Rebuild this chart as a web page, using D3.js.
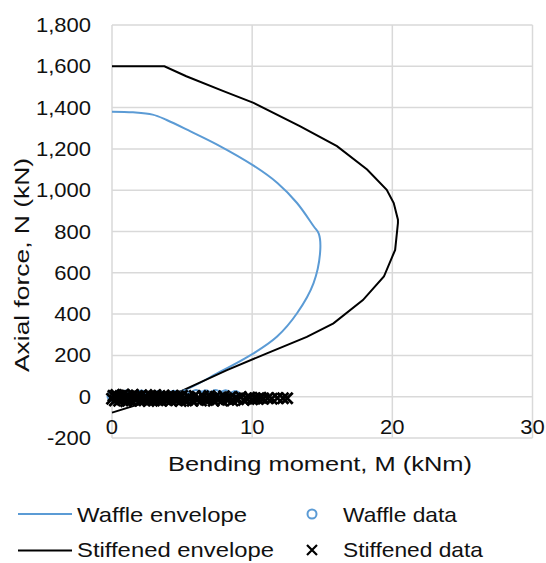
<!DOCTYPE html>
<html>
<head>
<meta charset="utf-8">
<script src="https://cdn.jsdelivr.net/npm/d3@7"></script>
<style>
	body { margin: 0; background: #fff; }
	text { font-family: "Liberation Sans", Arial, sans-serif; fill: #111; }
</style>
</head>
<body>
<div id="chart"></div>
<script>
// envelope curves (M in kNm, N in kN)
var waffleEnvM = [0, 1.5, 2.9, 3.9, 5.6, 7.5, 10.1, 11.8, 13.2, 14.4, 14.75, 14.86, 14.38, 13.2, 11.76, 10.1, 7.5, 4.9, 0];
var waffleEnvN = [1380, 1377, 1366, 1340, 1285, 1221, 1119, 1035, 938, 824, 790, 712, 550, 404, 290, 210, 113, 25, -30];

var stiffEnvM = [0, 3.74, 5.3, 7.95, 10.1, 13.4, 16.05, 18.2, 19.6, 20.1, 20.4, 20.4, 20.2, 19.4, 17.9, 15.8, 13.9, 11.05, 8.2, 4.86, 0];
var stiffEnvN = [1600, 1600, 1552, 1480, 1423, 1310, 1213, 1100, 1002, 938, 857, 841, 711, 582, 468, 355, 290, 210, 129, 25, -77];

// test data
var waffleDataM = [0, 0.2, 0.5, 0.8, 1.1, 1.4, 1.8, 2.1, 2.5, 2.9, 3.3, 3.6, 4.0, 4.4, 4.8, 5.2, 5.6, 6.0, 6.3, 6.7, 7.0, 7.4, 7.8, 8.1, 8.5, 8.8];
var waffleDataN = [2, -4, 8, 0, 10, 4, -2, 8, 0, -6, 5, 2, -3, 7, 0, 10, -2, 11, 4, 10, 0, 11, 3, 10, -1, 6];

var stiffDataM = [0, 0.1, 0.2, 0.3, 0.4, 0.5, 0.6, 0.7, 0.8, 0.9, 1.0, 1.1, 1.2, 1.3, 1.4, 1.5, 1.6, 1.7, 1.8, 1.9, 2.0, 2.1, 2.2, 2.3, 2.4, 2.5,
	2.6, 2.7, 2.8, 2.9, 3.0, 3.1, 3.2, 3.3, 3.4, 3.5, 3.6, 3.7, 3.8, 3.9, 4.0, 4.1, 4.2, 4.3, 4.4, 4.5, 4.6, 4.7, 4.8, 4.9,
	5.0, 5.15, 5.3, 5.45, 5.6, 5.75, 5.9, 6.05, 6.2, 6.35, 6.5, 6.65, 6.8, 6.95, 7.1, 7.25, 7.4, 7.55, 7.7, 7.85, 8.0, 8.15, 8.3, 8.45, 8.6,
	8.8, 9.0, 9.2, 9.4, 9.6, 9.8, 10.0, 10.2, 10.4, 10.6, 10.8, 11.1, 11.4, 11.8, 12.2, 12.5];
var stiffDataN = [-10, 5, -18, 8, -4, -20, 3, -12, 10, -6, -22, 6, -14, 0, -19, 9, -8, -16, 4, -2, -20, 7, -11, -17, 2, -6,
	-21, 5, -13, 0, -18, 8, -9, -15, 3, -20, -4, 6, -12, -17, 1, -8, -19, 4, -10, -3, -16, 2, -7, -21,
	5, -12, -18, 0, -9, -20, 4, -14, -6, -19, 2, -11, -16, 3, -8, -20, 0, -13, -5, -18, 2, -10, -15, -3, -19,
	-7, -12, -2, -16, -9, -4, -13, -8, -11, -5, -9, -7, -10, -6, -8, -7];

var xTicks = [0, 10, 20, 30];
var yTicks = [-200, 0, 200, 400, 600, 800, 1000, 1200, 1400, 1600, 1800];

var width = 546;
var height = 563;
var plot = { left: 112, right: 532.5, top: 25, bottom: 438 };

var blue = '#5b9bd5';
var grid = '#d9d9d9';

var svg = d3.select('#chart')
	.append('svg')
	.attr('width', width)
	.attr('height', height);

var x = d3.scaleLinear()
	.domain([0, 30])
	.range([plot.left, plot.right]);

var y = d3.scaleLinear()
	.domain([-200, 1800])
	.range([plot.bottom, plot.top]);

// widen text a little, the source font runs wide
function stretch(sel, k)
{
	sel.each(function() {
		var w = this.getComputedTextLength();
		d3.select(this)
			.attr('textLength', w * k)
			.attr('lengthAdjust', 'spacingAndGlyphs');
	});
}

// gridlines
svg.append('g')
	.selectAll('line')
	.data(yTicks)
	.enter()
	.append('line')
	.attr('x1', plot.left)
	.attr('x2', plot.right)
	.attr('y1', function(d) { return y(d); })
	.attr('y2', function(d) { return y(d); })
	.attr('stroke', grid)
	.attr('stroke-width', 1.5);

svg.append('g')
	.selectAll('line')
	.data(xTicks)
	.enter()
	.append('line')
	.attr('x1', function(d) { return x(d); })
	.attr('x2', function(d) { return x(d); })
	.attr('y1', plot.top)
	.attr('y2', plot.bottom)
	.attr('stroke', grid)
	.attr('stroke-width', 1.5);

// tick labels
var yLabels = svg.append('g')
	.selectAll('text')
	.data(yTicks)
	.enter()
	.append('text')
	.attr('x', 91)
	.attr('y', function(d) { return y(d) + 7; })
	.attr('text-anchor', 'end')
	.style('font-size', '20px')
	.text(function(d) { return d3.format(',')(d).replace('−', '-'); });
stretch(yLabels, 1.1);

var xLabels = svg.append('g')
	.selectAll('text')
	.data(xTicks)
	.enter()
	.append('text')
	.attr('x', function(d) { return x(d); })
	.attr('y', 434)
	.attr('text-anchor', 'middle')
	.style('font-size', '20px')
	.text(function(d) { return d; });
stretch(xLabels, 1.1);

// axis titles
svg.append('text')
	.attr('transform', 'translate(29,265) rotate(-90)')
	.attr('text-anchor', 'middle')
	.attr('textLength', 214)
	.attr('lengthAdjust', 'spacingAndGlyphs')
	.style('font-size', '21px')
	.text('Axial force, N (kN)');

svg.append('text')
	.attr('x', 168)
	.attr('y', 471)
	.attr('textLength', 304)
	.attr('lengthAdjust', 'spacingAndGlyphs')
	.style('font-size', '21px')
	.text('Bending moment, M (kNm)');

var line = d3.line()
	.x(function(d) { return x(d[0]); })
	.y(function(d) { return y(d[1]); });

// envelopes
svg.append('path')
	.datum(d3.zip(waffleEnvM, waffleEnvN))
	.attr('d', line.curve(d3.curveCatmullRom))
	.attr('fill', 'none')
	.attr('stroke', blue)
	.attr('stroke-width', 2);

svg.append('path')
	.datum(d3.zip(stiffEnvM, stiffEnvN))
	.attr('d', line.curve(d3.curveLinear))
	.attr('fill', 'none')
	.attr('stroke', '#000')
	.attr('stroke-width', 2);

// markers
var crossSize = 5.5;

svg.append('g')
	.selectAll('circle')
	.data(d3.zip(waffleDataM, waffleDataN))
	.enter()
	.append('circle')
	.attr('cx', function(d) { return x(d[0]); })
	.attr('cy', function(d) { return y(d[1]); })
	.attr('r', 4.5)
	.attr('fill', 'none')
	.attr('stroke', blue)
	.attr('stroke-width', 2);

svg.append('g')
	.selectAll('path')
	.data(d3.zip(stiffDataM, stiffDataN))
	.enter()
	.append('path')
	.attr('d', function(d) {
		var cx = x(d[0]), cy = y(d[1]);
		return 'M' + (cx - crossSize) + ',' + (cy - crossSize) + 'L' + (cx + crossSize) + ',' + (cy + crossSize) +
			'M' + (cx - crossSize) + ',' + (cy + crossSize) + 'L' + (cx + crossSize) + ',' + (cy - crossSize);
	})
	.attr('stroke', '#000')
	.attr('stroke-width', 2.8);

// legend
var legend = svg.append('g');

legend.append('line')
	.attr('x1', 18).attr('x2', 72)
	.attr('y1', 514).attr('y2', 514)
	.attr('stroke', blue).attr('stroke-width', 2);
legend.append('text')
	.attr('x', 77).attr('y', 521.5)
	.attr('textLength', 170).attr('lengthAdjust', 'spacingAndGlyphs')
	.style('font-size', '21px')
	.text('Waffle envelope');

legend.append('line')
	.attr('x1', 18).attr('x2', 72)
	.attr('y1', 550.5).attr('y2', 550.5)
	.attr('stroke', '#000').attr('stroke-width', 2);
legend.append('text')
	.attr('x', 77).attr('y', 557)
	.attr('textLength', 197).attr('lengthAdjust', 'spacingAndGlyphs')
	.style('font-size', '21px')
	.text('Stiffened envelope');

legend.append('circle')
	.attr('cx', 312).attr('cy', 514)
	.attr('r', 4.5)
	.attr('fill', 'none')
	.attr('stroke', blue).attr('stroke-width', 2);
legend.append('text')
	.attr('x', 343).attr('y', 521.5)
	.attr('textLength', 114).attr('lengthAdjust', 'spacingAndGlyphs')
	.style('font-size', '21px')
	.text('Waffle data');

legend.append('path')
	.attr('d', 'M307,545L317,555M307,555L317,545')
	.attr('stroke', '#000').attr('stroke-width', 2.2);
legend.append('text')
	.attr('x', 343).attr('y', 557)
	.attr('textLength', 140).attr('lengthAdjust', 'spacingAndGlyphs')
	.style('font-size', '21px')
	.text('Stiffened data');
</script>
</body>
</html>
